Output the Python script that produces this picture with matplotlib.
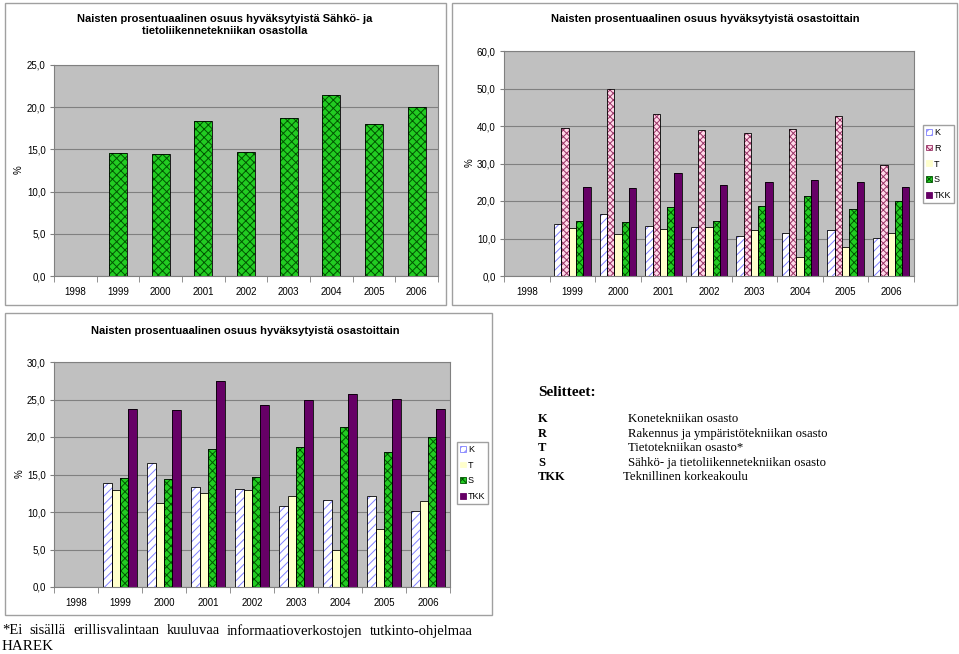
import matplotlib.pyplot as plt
import matplotlib.ticker as mticker
from matplotlib.patches import Rectangle, Patch
import numpy as np

vuodet = ["1998", "1999", "2000", "2001", "2002", "2003", "2004", "2005", "2006"]

## Osastojen prosentit (1998 puuttuu)
K = [np.nan, 13.9, 16.6, 13.3, 13.1, 10.8, 11.6, 12.2, 10.2]
R = [np.nan, 39.6, 50.0, 43.3, 39.0, 38.1, 39.3, 42.7, 29.5]
T = [np.nan, 12.9, 11.2, 12.5, 13.0, 12.2, 5.0, 7.7, 11.5]
S = [np.nan, 14.6, 14.4, 18.4, 14.7, 18.7, 21.4, 18.0, 20.0]
TKK = [np.nan, 23.8, 23.6, 27.5, 24.3, 25.0, 25.7, 25.1, 23.7]

selitteet = [
    ("K", "Konetekniikan osasto"),
    ("R", "Rakennus ja ympäristötekniikan osasto"),
    ("T", "Tietotekniikan osasto*"),
    ("S", "Sähkö- ja tietoliikennetekniikan osasto"),
    ("TKK", "Teknillinen korkeakoulu"),
]
alaviite = "*Ei sisällä erillisvalintaan kuuluvaa informaatioverkostojen tutkinto-ohjelmaa"

## tyylit: (täyttö, kuvion väri, kuvio)
tyyli = {
    "K": ("white", "#8080FF", "////"),
    "R": ("#FFD8E8", "#993366", "xxxxx"),
    "T": ("#FFFFCC", "#FFFFCC", None),
    "S": ("#22CC22", "#005500", "xxxx"),
    "TKK": ("#660066", "#660066", None),
}

plt.rcParams["hatch.linewidth"] = 0.7
plt.rcParams["font.family"] = ["Liberation Sans", "DejaVu Sans"]
serif = ["Liberation Serif", "DejaVu Serif"]

W, H = 959, 654
fig = plt.figure(figsize=(W / 100, H / 100), dpi=100)


def fx(x):
    return x / W


def fy(y):
    return 1 - y / H


def px_axes(x0, y0, x1, y1):
    return fig.add_axes([fx(x0), fy(y1), (x1 - x0) / W, (y1 - y0) / H])


def kehys(x0, y0, x1, y1):
    fig.patches.append(Rectangle((fx(x0), fy(y1)), (x1 - x0) / W, (y1 - y0) / H,
                                 transform=fig.transFigure, facecolor="white",
                                 edgecolor="#A0A0A0", linewidth=1.0, zorder=-10))


def pylvaat(ax, x, arvot, w, nimi):
    face, hc, h = tyyli[nimi]
    ax.bar(x, arvot, w, color=face, edgecolor=hc, hatch=h, linewidth=0, zorder=2)
    ax.bar(x, arvot, w, fill=False, edgecolor="black", linewidth=0.6, zorder=3)


def muotoile(ax, ymax, step):
    ax.set_facecolor("#C0C0C0")
    ax.set_xlim(-0.5, 8.5)
    ax.set_ylim(0, ymax)
    ax.set_yticks(np.arange(0, ymax + 0.1, step))
    ax.yaxis.set_major_formatter(mticker.FuncFormatter(lambda v, p: f"{v:.1f}".replace(".", ",")))
    ax.yaxis.grid(True, color="#808080", linewidth=0.8, zorder=1)
    ax.set_axisbelow(True)
    ax.set_xticks(range(9))
    ax.set_xticklabels(vuodet)
    ax.set_xticks(np.arange(-0.5, 9, 1), minor=True)
    ax.tick_params(axis="x", which="major", length=0, labelsize=7, pad=8)
    ax.tick_params(axis="x", which="minor", length=4, color="#808080")
    ax.tick_params(axis="y", length=3, color="#808080", labelsize=7, pad=3)
    for s in ax.spines.values():
        s.set_color("#808080")


def selite(ax, nimet, y_keski):
    kahvat = [Patch(facecolor=tyyli[n][0], edgecolor=tyyli[n][1], hatch=tyyli[n][2], linewidth=0.6) for n in nimet]
    ax.legend(kahvat, nimet, loc="center left", bbox_to_anchor=(fx(923 if len(nimet) == 5 else 457), fy(y_keski)),
              bbox_transform=fig.transFigure, fontsize=6.5, handlelength=0.6, handleheight=0.6,
              handletextpad=0.25, borderpad=0.35, labelspacing=0.75, borderaxespad=0, fancybox=False,
              edgecolor="#A0A0A0", framealpha=1)


x = np.arange(9)

## Ylävasen: S
kehys(5, 3, 446, 305)
ax1 = px_axes(54, 65, 438, 276)
pylvaat(ax1, x, S, 0.42, "S")
muotoile(ax1, 25, 5)
fig.text(fx(225), fy(25), "Naisten prosentuaalinen osuus hyväksytyistä Sähkö- ja\ntietoliikennetekniikan osastolla",
         ha="center", va="center", fontsize=8, fontweight="bold", linespacing=1.35)
fig.text(fx(19), fy(170), "%", rotation=90, ha="center", va="center", fontsize=7)

## Yläoikea: kaikki osastot
kehys(452, 3, 957, 305)
ax2 = px_axes(504, 51, 914, 276)
sarjat = [("K", K), ("R", R), ("T", T), ("S", S), ("TKK", TKK)]
bw = 0.16
for i, (nimi, arvot) in enumerate(sarjat):
    pylvaat(ax2, x + (i - 2) * bw, arvot, bw, nimi)
muotoile(ax2, 60, 10)
fig.text(fx(705), fy(19), "Naisten prosentuaalinen osuus hyväksytyistä osastoittain",
         ha="center", va="center", fontsize=8, fontweight="bold")
fig.text(fx(470), fy(163), "%", rotation=90, ha="center", va="center", fontsize=7)
selite(ax2, [n for n, _ in sarjat], 164)

## Alavasen: ilman R
kehys(5, 313, 492, 615)
ax3 = px_axes(54, 362, 450, 587)
sarjat3 = [("K", K), ("T", T), ("S", S), ("TKK", TKK)]
bw3 = 0.19
for i, (nimi, arvot) in enumerate(sarjat3):
    pylvaat(ax3, x + (i - 1.5) * bw3, arvot, bw3, nimi)
muotoile(ax3, 30, 5)
fig.text(fx(245), fy(331), "Naisten prosentuaalinen osuus hyväksytyistä osastoittain",
         ha="center", va="center", fontsize=8, fontweight="bold")
fig.text(fx(20), fy(474), "%", rotation=90, ha="center", va="center", fontsize=7)
selite(ax3, [n for n, _ in sarjat3], 473)

## Selitteet
fig.text(fx(538), fy(392), "Selitteet:", family=serif, fontsize=11, fontweight="bold", va="center")
for j, (lyh, kuvaus) in enumerate(selitteet):
    yy = fy(419 + j * 14.6)
    fig.text(fx(538), yy, lyh, family=serif, fontsize=9, fontweight="bold", va="center")
    fig.text(fx(628 if lyh != "TKK" else 623), yy, kuvaus, family=serif, fontsize=9.2, va="center")

## Alaviite, tasattu riville 0..473 px
r = fig.canvas.get_renderer()
sanat = alaviite.split(" ")
tekstit = [fig.text(0, fy(631), s, family=serif, fontsize=10.5, va="center") for s in sanat]
leveydet = [t.get_window_extent(r).width for t in tekstit]
vali = (473 - 2 - sum(leveydet)) / (len(sanat) - 1)
xx = 2
for t, lev in zip(tekstit, leveydet):
    t.set_x(fx(xx))
    xx += lev + vali
fig.text(fx(2), fy(647), "HAREK", family=serif, fontsize=10.8, va="center")

fig.savefig("out.png", dpi=100)
